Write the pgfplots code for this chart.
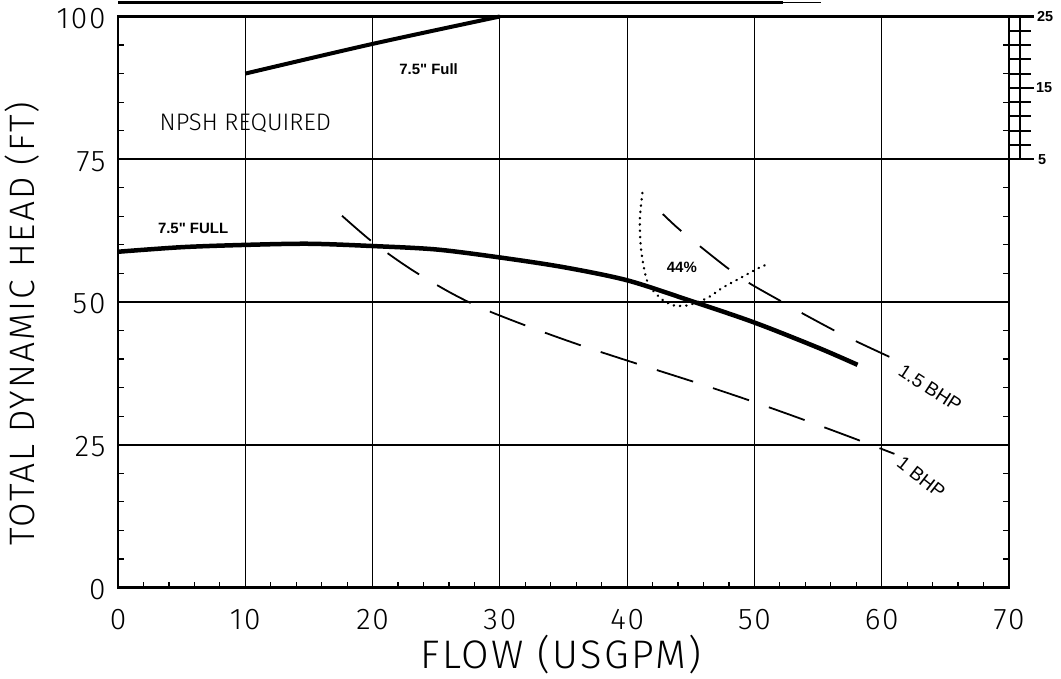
\documentclass[border=0pt]{standalone}
\usepackage{fontspec}
\setmainfont{Liberation Sans}
\IfFontExistsTF{Fira Sans Light}{%
  \newfontfamily\thinfont{Fira Sans Light}%
  \newfontfamily\thinwide{Fira Sans Light}[LetterSpace=6]}{%
  \newfontfamily\thinfont{Liberation Sans}%
  \newfontfamily\thinwide{Liberation Sans}}
\usepackage{pgfplots}
\pgfplotsset{compat=1.18}
\begin{document}
\begin{tikzpicture}
\useasboundingbox (-118bp,-91.5bp) rectangle (943bp,587.5bp);
\begin{axis}[
  at={(0,0)}, anchor=south west,
  scale only axis, width=891bp, height=571bp,
  xmin=0, xmax=70, ymin=0, ymax=100,
  xtick={0,10,...,70}, ytick={0,25,...,100},
  minor xtick={2,4,...,68}, minor ytick={5,10,...,95},
  xtick pos=left, ytick pos=both,
  tick align=inside,
  major tick length=0pt, minor tick length=6bp,
  every minor tick/.append style={line width=1.2bp, black},
  grid=major,
  major x grid style={line width=0.9bp, black},
  major y grid style={line width=2.2bp, black},
  axis line style={line width=2.5bp, black},
  /pgf/number format/assume math mode=true,
  tick label style={font=\thinwide\fontsize{30}{32}\selectfont},
  xticklabel style={yshift=-18bp},
  yticklabel style={xshift=-9bp, yshift=-2bp},
  clip=false,
]
% head curve 7.5" full
\addplot[black, line width=4.5bp, smooth] coordinates {
(0,58.8) (5,59.6) (10,60.0) (15,60.2) (20,59.8) (25,59.2) (30,57.8)
(35,56.1) (40,53.8) (45,50.2) (50,46.4) (55,42.0) (58.1,39.0)};
% NPSH required curve
\addplot[black, line width=4bp, smooth] coordinates {
(10,90.0) (20,95.2) (30,100)};
% 1 BHP
\addplot[black, line width=1.8bp, smooth, dash pattern=on 38bp off 21bp] coordinates {
(17.6,65.1) (20.0,60.5) (22.9,55.9) (25.9,51.9) (28.6,48.9) (32.6,45.4)
(36.5,42.3) (40.9,39.1) (45.4,35.9) (49.3,33.0) (53.6,29.6) (57.6,26.3) (61.0,23.4)};
% 1.5 BHP (drawn from lower end)
\addplot[black, line width=1.8bp, smooth, dash pattern=on 37bp off 24bp] coordinates {
(60.6,40.4) (58.1,43.0) (56.2,45.1) (53.7,48.1) (52.2,50.0) (49.6,53.3)
(47.8,56.1) (45.2,60.7) (43.9,63.1) (42.8,65.4)};
% 44% efficiency
\addplot[black, line width=2.5bp, smooth, line cap=round, dash pattern=on 0.3bp off 6bp] coordinates {
(41.2,69.1) (41.0,64.4) (41.1,59.1) (41.6,53.5) (42.6,50.7) (43.5,49.5)
(44.1,49.3) (44.9,49.5) (46.3,50.7) (47.5,52.5) (48.9,54.2) (50.2,55.8) (51.0,56.6)};

\node[font=\bfseries\fontsize{15}{16}\selectfont] at (axis cs:24.4,90.8) {7.5\textquotedbl{} Full};
\node[font=\thinfont\fontsize{24}{26}\selectfont] at (axis cs:10.0,81.3) {NPSH REQUIRED};
\node[font=\bfseries\fontsize{15}{16}\selectfont] at (axis cs:5.9,62.8) {7.5\textquotedbl{} FULL};
\node[font=\bfseries\fontsize{15}{16}\selectfont] at (axis cs:44.3,56.1) {44\%};
\node[font=\fontsize{19}{20}\selectfont, rotate=-33] at (axis cs:63.8,34.9) {1.5 BHP};
\node[font=\fontsize{19}{20}\selectfont, rotate=-38] at (axis cs:63.1,19.3) {1 BHP};
\end{axis}
% top decorative line
\draw[line width=3bp] (0bp,585bp) -- (665bp,585bp);
\draw[line width=1.5bp] (665bp,585bp) -- (703bp,585bp);
% NPSH scale
\draw[line width=2.2bp] (902bp,428.25bp) -- (902bp,571bp);
\foreach \h in {77.5,80,...,97.5} \draw[line width=2bp] (891bp,{\h*5.71bp}) -- ++(21.5bp,0);
\foreach \h in {75,87.5,100} \draw[line width=2.2bp] (891bp,{\h*5.71bp}) -- ++(25bp,0);
\node[anchor=west, font=\bfseries\fontsize{14.5}{15}\selectfont, inner sep=0pt] at (919bp,571bp) {25};
\node[anchor=west, font=\bfseries\fontsize{14.5}{15}\selectfont, inner sep=0pt] at (918bp,499.6bp) {15};
\node[anchor=west, font=\bfseries\fontsize{14.5}{15}\selectfont, inner sep=0pt] at (920bp,427.5bp) {5};
% axis labels
\node[anchor=base, font=\thinwide\fontsize{40}{42}\selectfont] at (443bp,-80.5bp) {FLOW (USGPM)};
\node[anchor=base, rotate=90, font=\thinwide\fontsize{35.5}{38}\selectfont] at (-83bp,264bp) {TOTAL DYNAMIC HEAD (FT)};
\end{tikzpicture}
\end{document}
